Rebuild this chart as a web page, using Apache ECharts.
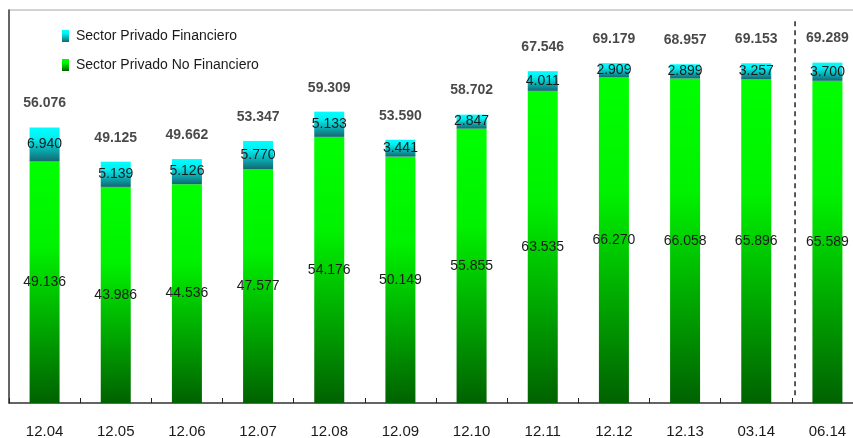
<!DOCTYPE html>
<html>
<head>
<meta charset="utf-8">
<script src="https://cdn.jsdelivr.net/npm/echarts@6/dist/echarts.min.js"></script>
<style>
  html, body { margin: 0; padding: 0; background: #fff; }
  #chart { width: 853px; height: 438px; }
</style>
</head>
<body>
<div id="chart"></div>
<script>
// Periods (month.year)
const categories = ['12.04', '12.05', '12.06', '12.07', '12.08', '12.09', '12.10', '12.11', '12.12', '12.13', '03.14', '06.14'];
// Sector Privado No Financiero
const noFinanciero = [49.136, 43.986, 44.536, 47.577, 54.176, 50.149, 55.855, 63.535, 66.270, 66.058, 65.896, 65.589];
// Sector Privado Financiero
const financiero = [6.940, 5.139, 5.126, 5.770, 5.133, 3.441, 2.847, 4.011, 2.909, 2.899, 3.257, 3.700];
// Stack totals shown above each bar
const totals = noFinanciero.map((v, i) => +(v + financiero[i]).toFixed(3));
// Separator between annual and quarterly periods (position on the category index scale)
const separatorAt = 10.545;

const fmt = v => v.toFixed(3);
const FONT = "'Liberation Sans', Arial, sans-serif";

const greenFill = new echarts.graphic.LinearGradient(0, 0, 0, 1, [
  { offset: 0, color: '#00ff00' },
  { offset: 0.35, color: '#00f200' },
  { offset: 1, color: '#006200' }
]);
const cyanFill = new echarts.graphic.LinearGradient(0, 0, 0, 1, [
  { offset: 0, color: '#00ffff' },
  { offset: 0.3, color: '#00f0f2' },
  { offset: 1, color: '#146670' }
]);

const chart = echarts.init(document.getElementById('chart'), null, { renderer: 'canvas' });

chart.setOption({
  animation: false,
  backgroundColor: '#ffffff',
  textStyle: { fontFamily: FONT },
  legend: {
    orient: 'vertical',
    left: 62,
    top: 29,
    padding: 0,
    itemWidth: 7,
    itemHeight: 12,
    itemGap: 15,
    icon: 'rect',
    textStyle: { fontSize: 14, color: '#1a1a1a', fontFamily: FONT, padding: [0, 0, 0, 2] },
    data: ['Sector Privado Financiero', 'Sector Privado No Financiero']
  },
  grid: {
    left: 9,
    top: 10,
    width: 854,
    height: 393,
    outerBoundsMode: 'none',
    containLabel: false,
    show: true,
    borderColor: '#a6a6a6',
    borderWidth: 1
  },
  xAxis: [
    {
      type: 'category',
      data: categories,
      axisLine: { show: true, lineStyle: { color: '#404040', width: 1.5 } },
      axisTick: { show: true, inside: true, length: 5, alignWithLabel: false, lineStyle: { color: '#222' } },
      axisLabel: { fontSize: 15, color: '#1a1a1a', margin: 21, fontFamily: FONT },
      splitLine: { show: false }
    },
    {
      type: 'value',
      min: -0.5,
      max: 11.5,
      show: false
    }
  ],
  yAxis: {
    type: 'value',
    min: 0,
    max: 80,
    axisLine: { show: true, onZero: false, lineStyle: { color: '#404040', width: 1.5 } },
    axisTick: { show: false },
    axisLabel: { show: false },
    splitLine: { show: false }
  },
  series: [
    {
      name: 'Sector Privado No Financiero',
      type: 'bar',
      stack: 'total',
      barWidth: 30,
      data: noFinanciero,
      itemStyle: { color: greenFill },
      label: {
        show: true,
        position: 'inside',
        formatter: p => fmt(p.value),
        fontSize: 14,
        color: '#1a1a1a',
        fontFamily: FONT
      }
    },
    {
      name: 'Sector Privado Financiero',
      type: 'bar',
      stack: 'total',
      barWidth: 30,
      data: financiero,
      itemStyle: { color: cyanFill },
      label: {
        show: true,
        position: 'inside',
        formatter: p => fmt(p.value),
        fontSize: 14,
        color: '#1a1a1a',
        fontFamily: FONT
      }
    },
    {
      name: 'Total',
      type: 'scatter',
      data: totals,
      symbolSize: 0,
      silent: true,
      label: {
        show: true,
        position: 'top',
        distance: 17,
        formatter: p => fmt(p.value),
        fontSize: 14,
        fontWeight: 'bold',
        color: '#1a1a1a',
        fontFamily: FONT
      }
    },
    {
      name: 'Separador',
      type: 'line',
      xAxisIndex: 1,
      data: [[separatorAt, 1.6], [separatorAt, 78]],
      symbol: 'none',
      silent: true,
      lineStyle: { color: '#222', width: 1.5, type: [5, 4] }
    }
  ]
});
</script>
</body>
</html>
